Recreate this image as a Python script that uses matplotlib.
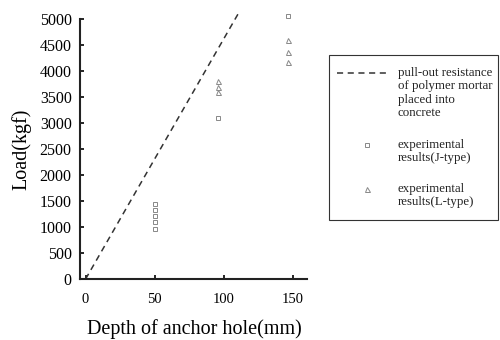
import numpy as np
import matplotlib.pyplot as plt
from matplotlib.lines import Line2D
from matplotlib.patches import Rectangle

plt.rcParams['font.family'] = ['Liberation Serif', 'DejaVu Serif']

# pull-out resistance of the mortar, straight line from the origin
line_depth = [0, 111]
line_load = [0, 5135]

# J-type results (squares)
j_depth = [50, 50, 50, 50, 50, 96, 146]
j_load = [960, 1100, 1220, 1330, 1450, 3100, 5050]

# L-type results (triangles)
l_depth = [96, 96, 96, 146, 146, 146]
l_load = [3600, 3700, 3800, 4180, 4370, 4600]

xticks = [0, 50, 100, 150]
yticks = list(range(0, 5001, 500))

legend_labels = [
    ['pull-out resistance', 'of polymer mortar', 'placed into', 'concrete'],
    ['experimental', 'results(J-type)'],
    ['experimental', 'results(L-type)'],
]

W, H = 500, 340
fig = plt.figure(figsize=(5, 3.4), dpi=100)
ax = fig.add_axes([0.16, 0.179, 0.454, 0.765])

dash = (0, (4, 3))
ax.plot(line_depth, line_load, ls=dash, color='#333333', lw=1.1, clip_on=False)
sq_style = dict(ls='none', marker='s', ms=3.2, mfc='none', mec='#888888', mew=0.7)
tr_style = dict(ls='none', marker='^', ms=3.6, mfc='none', mec='#888888', mew=0.7)
ax.plot(j_depth, j_load, clip_on=False, **sq_style)
ax.plot(l_depth, l_load, clip_on=False, **tr_style)

ax.set_xlim(-4, 160)
ax.set_ylim(0, 5000)
ax.set_xticks(xticks)
ax.set_yticks(yticks)
ax.tick_params(direction='in', length=3, width=1.2)
ax.tick_params(axis='x', labelsize=10.5, pad=10)
ax.tick_params(axis='y', labelsize=11.5, pad=6)
for s in ['top', 'right']:
    ax.spines[s].set_visible(False)
for s in ['left', 'bottom']:
    ax.spines[s].set_linewidth(1.5)
    ax.spines[s].set_color('#222222')

ax.set_xlabel('Depth of anchor hole(mm)', fontsize=14.5)
ax.set_ylabel('Load(kgf)', fontsize=14.5)
ax.xaxis.set_label_coords(0.505, -0.155)
ax.yaxis.set_label_coords(-0.213, 0.5)


# hand-built legend box, in pixel coordinates from the top-left corner
def fx(px):
    return px / W


def fy(py):
    return 1 - py / H


fig.add_artist(Rectangle((fx(329), fy(220)), fx(498) - fx(329), fy(55) - fy(220),
                         transform=fig.transFigure, fill=False,
                         edgecolor='#333333', lw=0.8))
fig.add_artist(Line2D([fx(337), fx(390)], [fy(73), fy(73)], transform=fig.transFigure,
                      ls=dash, color='#333333', lw=1.1))
fig.add_artist(Line2D([fx(367)], [fy(145)], transform=fig.transFigure, **sq_style))
fig.add_artist(Line2D([fx(367)], [fy(189)], transform=fig.transFigure, **tr_style))

line_step = 13.5
for top, lines in zip([73, 145, 189], legend_labels):
    for i, txt in enumerate(lines):
        fig.text(fx(398), fy(top + i * line_step), txt, fontsize=9.3,
                 ha='left', va='center', color='#222222')

fig.savefig('out.png', dpi=100)
